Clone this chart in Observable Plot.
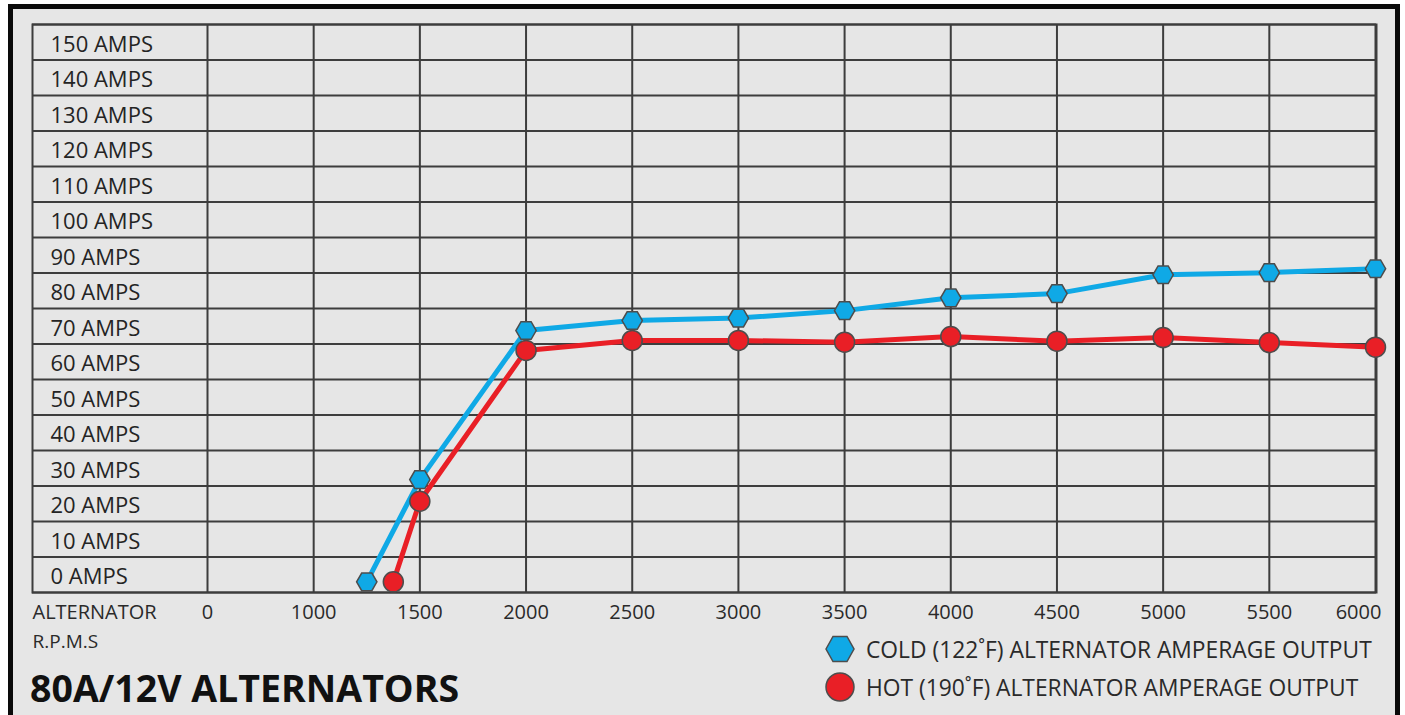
<!DOCTYPE html>
<html>
<head>
<meta charset="utf-8">
<script src="https://cdn.jsdelivr.net/npm/d3@7"></script>
<script src="https://cdn.jsdelivr.net/npm/@observablehq/plot@0.6"></script>
<style>
  html, body { margin: 0; padding: 0; background: #ffffff; overflow: hidden; }
  #card {
    position: absolute; left: 8px; top: 4px; width: 1392px; height: 720px;
    box-sizing: border-box; border: 5px solid #0a0a0a; border-bottom: none;
    background: #e6e6e6; font-family: "Open Sans", sans-serif; color: #222;
  }
  #chart svg { display: block; }
  #title {
    position: absolute; left: 17px; top: 655px; font-size: 37.5px; font-weight: 700;
    line-height: 48px; color: #111; white-space: nowrap;
  }
  .lg { position: absolute; left: 811px; display: flex; align-items: center; height: 34px;
        font-size: 22.8px; color: #2a2a2a; white-space: nowrap; }
  .lg svg { margin-right: 10px; }
</style>
</head>
<body>
<div id="card">
  <div id="chart"></div>
  <div id="title">80A/12V ALTERNATORS</div>
  <div class="lg" id="lg1" style="top:623px"></div>
  <div class="lg" id="lg2" style="top:661px"></div>
</div>
<script>
// ---- data ----
const rpmTicks = [0, 1000, 1500, 2000, 2500, 3000, 3500, 4000, 4500, 5000, 5500, 6000];
const ampTicks = [0, 10, 20, 30, 40, 50, 60, 70, 80, 90, 100, 110, 120, 130, 140, 150];
const ampGrid = [-5, 5, 15, 25, 35, 45, 55, 65, 75, 85, 95, 105, 115, 125, 135, 145, 155];
const coldRpm = [1250, 1500, 2000, 2500, 3000, 3500, 4000, 4500, 5000, 5500, 6000];
const coldAmps = [-2, 26.8, 68.8, 71.6, 72.3, 74.4, 78.0, 79.2, 84.5, 85.1, 86.2];
const hotRpm = [1375, 1500, 2000, 2500, 3000, 3500, 4000, 4500, 5000, 5500, 6000];
const hotAmps = [-2, 20.7, 63.2, 66.0, 66.0, 65.5, 67.1, 65.8, 66.8, 65.4, 64.1];
const coldLabel = "COLD (122˚F) ALTERNATOR AMPERAGE OUTPUT";
const hotLabel = "HOT (190˚F) ALTERNATOR AMPERAGE OUTPUT";
const titleText = "80A/12V ALTERNATORS";
const xLabel1 = "ALTERNATOR";
const xLabel2 = "R.P.M.S";

const BLUE = "#0fa9e6", RED = "#e91f26", MARK_STROKE = "#4d4d4d", GRID = "#3d3d3d";

const cold = coldRpm.map((x, i) => ({x, y: coldAmps[i]}));
const hot = hotRpm.map((x, i) => ({x, y: hotAmps[i]}));

const W = 1382, H = 651;
const mL = 19, mR = 19, mT = 15, mB = 68;
const x0 = 194, x1 = 1362; // pixel span of the rpm columns
const step = (x1 - x0) / (rpmTicks.length - 1);

const chart = Plot.plot({
  width: W, height: H,
  marginLeft: mL, marginRight: mR, marginTop: mT, marginBottom: mB,
  style: {background: "transparent", fontFamily: "'Open Sans', sans-serif", overflow: "visible"},
  x: {type: "linear", domain: rpmTicks, range: rpmTicks.map((_, i) => x0 + i * step), axis: null},
  y: {domain: [-5, 155], axis: null},
  marks: [
    Plot.ruleY(ampGrid, {stroke: GRID, strokeWidth: 2}),
    Plot.ruleX(rpmTicks, {stroke: GRID, strokeWidth: 2}),
    Plot.frame({stroke: GRID, strokeWidth: 2}),
    Plot.text(ampTicks, {y: d => d, text: d => `${d} AMPS`, frameAnchor: "left", textAnchor: "start",
      dx: 18, dy: 2.5, fontSize: 22, fill: "#242424"}),
    Plot.text(rpmTicks.slice(0, -1), {x: d => d, text: d => String(d), frameAnchor: "bottom",
      dy: 26, fontSize: 20, fill: "#2a2a2a"}),
    Plot.text(rpmTicks.slice(-1), {x: d => d, text: d => String(d), frameAnchor: "bottom",
      dy: 26, dx: -17, fontSize: 20, fill: "#2a2a2a"}),
    Plot.text([xLabel1], {frameAnchor: "bottom-left", textAnchor: "start", dy: 26, fontSize: 20, fill: "#2a2a2a"}),
    Plot.text([xLabel2], {frameAnchor: "bottom-left", textAnchor: "start", dy: 55, fontSize: 19, letterSpacing: "-1px", fill: "#2a2a2a"}),
    Plot.line(cold, {x: "x", y: "y", stroke: BLUE, strokeWidth: 5}),
    Plot.dot(cold, {x: "x", y: "y", symbol: "hexagon", r: 8.8, rotate: 90, fill: BLUE, stroke: MARK_STROKE, strokeWidth: 1.5}),
    Plot.line(hot, {x: "x", y: "y", stroke: RED, strokeWidth: 5}),
    Plot.dot(hot, {x: "x", y: "y", symbol: "circle", r: 10, fill: RED, stroke: MARK_STROKE, strokeWidth: 1.5})
  ]
});
document.getElementById("chart").appendChild(chart);
document.getElementById("title").textContent = titleText;

const hexSvg = `<svg width="32" height="32" viewBox="-16 -16 32 32"><polygon points="-14,0 -7,-12.5 7,-12.5 14,0 7,12.5 -7,12.5" fill="${BLUE}" stroke="${MARK_STROKE}" stroke-width="1.5"/></svg>`;
const cirSvg = `<svg width="32" height="32" viewBox="-16 -16 32 32"><circle r="14" fill="${RED}" stroke="${MARK_STROKE}" stroke-width="1.5"/></svg>`;
document.getElementById("lg1").innerHTML = hexSvg + `<span>${coldLabel}</span>`;
document.getElementById("lg2").innerHTML = cirSvg + `<span>${hotLabel}</span>`;
</script>
</body>
</html>
